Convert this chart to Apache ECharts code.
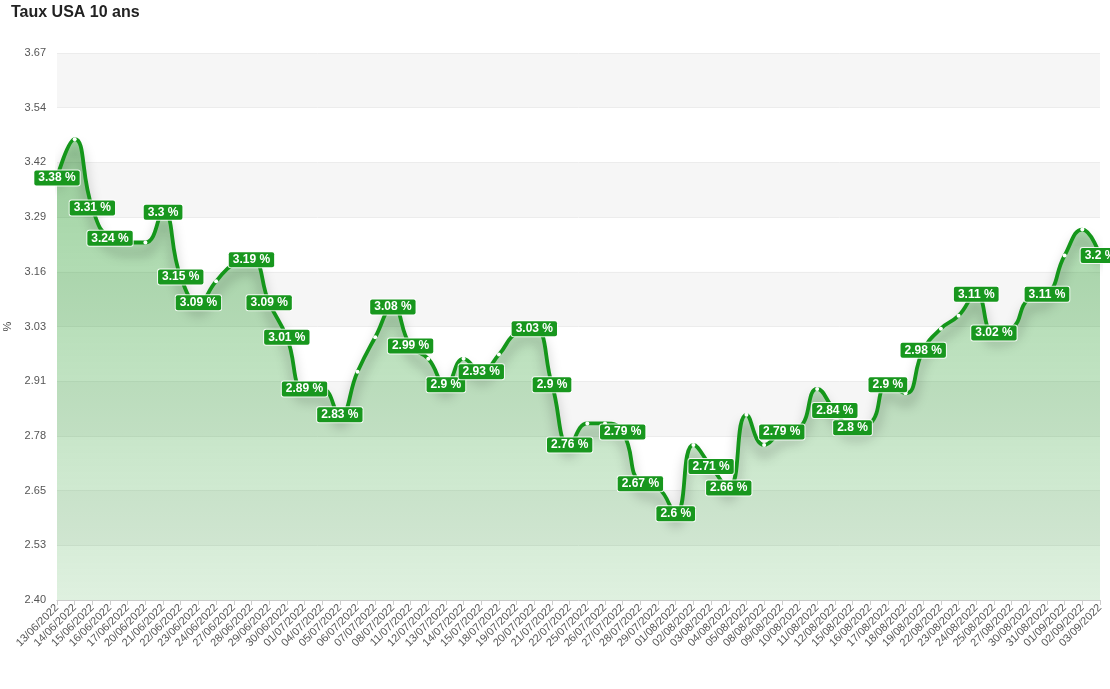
<!DOCTYPE html>
<html>
<head>
<meta charset="utf-8">
<script src="https://cdn.jsdelivr.net/npm/echarts@6/dist/echarts.min.js"></script>
<style>
html,body{margin:0;padding:0;background:#fff;}
#chart{width:1110px;height:689px;}
</style>
</head>
<body>
<div id="chart"></div>
<script>
const dates = [
'13/06/2022','14/06/2022','15/06/2022','16/06/2022','17/06/2022','20/06/2022','21/06/2022','22/06/2022','23/06/2022','24/06/2022',
'27/06/2022','28/06/2022','29/06/2022','30/06/2022','01/07/2022','04/07/2022','05/07/2022','06/07/2022','07/07/2022','08/07/2022',
'11/07/2022','12/07/2022','13/07/2022','14/07/2022','15/07/2022','18/07/2022','19/07/2022','20/07/2022','21/07/2022','22/07/2022',
'25/07/2022','26/07/2022','27/07/2022','28/07/2022','29/07/2022','01/08/2022','02/08/2022','03/08/2022','04/08/2022','05/08/2022',
'08/08/2022','09/08/2022','10/08/2022','11/08/2022','12/08/2022','15/08/2022','16/08/2022','17/08/2022','18/08/2022','19/08/2022',
'22/08/2022','23/08/2022','24/08/2022','25/08/2022','27/08/2022','30/08/2022','31/08/2022','01/09/2022','02/09/2022','03/09/2022'
];
const rates = [
3.38,3.47,3.31,3.24,3.23,3.23,3.3,3.15,3.09,3.14,
3.18,3.19,3.09,3.01,2.89,2.89,2.83,2.93,3.01,3.08,
2.99,2.96,2.9,2.96,2.93,2.97,3.02,3.03,2.9,2.76,
2.81,2.81,2.79,2.67,2.66,2.6,2.76,2.71,2.66,2.83,
2.76,2.79,2.8,2.89,2.84,2.8,2.81,2.9,2.88,2.98,
3.03,3.06,3.11,3.02,3.03,3.1,3.11,3.2,3.26,3.2
];
// 1 = value label shown in the reference, 0 = hidden
const labelShown = [
1,0,1,1,0,0,1,1,1,0,
0,1,1,1,1,0,1,0,0,1,
1,0,1,0,1,0,0,1,1,1,
0,0,1,1,0,1,0,1,1,0,
0,1,0,0,1,1,0,1,0,1,
0,0,1,1,0,0,1,0,0,1
];
const yTickLabels = ['2.40','2.53','2.65','2.78','2.91','3.03','3.16','3.29','3.42','3.54','3.67'];
const yMin = 2.4, yMax = 3.67, yStep = 0.127;

const green = '#14961a';
const font = 'Liberation Sans, Arial, sans-serif';
const chart = echarts.init(document.getElementById('chart'));
chart.setOption({
  animation: false,
  textStyle: {fontFamily: font},
  title: {
    text: 'Taux USA 10 ans', left: 6, top: 0,
    textStyle: {fontSize: 16, fontWeight: 'bold', color: '#222', fontFamily: font}
  },
  grid: {left: 57, right: 10, top: 53, bottom: 89, containLabel: false, outerBoundsMode: 'none'},
  xAxis: {
    type: 'category', data: dates, boundaryGap: false,
    axisLine: {lineStyle: {color: '#ccc'}},
    axisTick: {show: true, lineStyle: {color: '#ccc'}},
    axisLabel: {rotate: 45, interval: 0, fontSize: 11, color: '#555', margin: 6},
    splitLine: {show: false}
  },
  yAxis: {
    type: 'value', min: yMin, max: yMax, interval: yStep,
    name: '%', nameLocation: 'middle', nameGap: 41,
    nameTextStyle: {fontSize: 11, color: '#444'},
    axisLine: {show: false}, axisTick: {show: false},
    axisLabel: {
      fontSize: 11, color: '#555', margin: 11,
      formatter: function (v) { return yTickLabels[Math.round((v - yMin) / yStep)] || ''; }
    },
    splitLine: {show: true, lineStyle: {color: '#ececec'}},
    splitArea: {show: true, areaStyle: {color: ['rgba(255,255,255,0)', 'rgba(246,246,246,1)']}}
  },
  series: [{
    type: 'line',
    data: rates.map((v, i) => ({value: v, label: {show: !!labelShown[i]}})),
    smooth: true,
    symbol: 'circle', symbolSize: 4,
    itemStyle: {color: '#ffffff'},
    lineStyle: {color: green, width: 3.8, shadowColor: 'rgba(0,0,0,0.35)', shadowBlur: 12, shadowOffsetY: 10},
    areaStyle: {
      color: new echarts.graphic.LinearGradient(0, 0, 0, 1, [
        {offset: 0, color: 'rgba(25,150,30,0.6)'},
        {offset: 1, color: 'rgba(25,150,30,0.2)'}
      ])
    },
    label: {
      show: true, position: 'inside',
      formatter: p => p.value + ' %',
      color: '#fff', fontWeight: 'bold', fontSize: 12,
      fontFamily: font,
      backgroundColor: '#18971e', borderColor: 'rgba(255,255,255,0.85)', borderWidth: 1,
      borderRadius: 2, padding: [2, 4, 1, 4]
    },
    emphasis: {disabled: true}
  }]
});
</script>
</body>
</html>
